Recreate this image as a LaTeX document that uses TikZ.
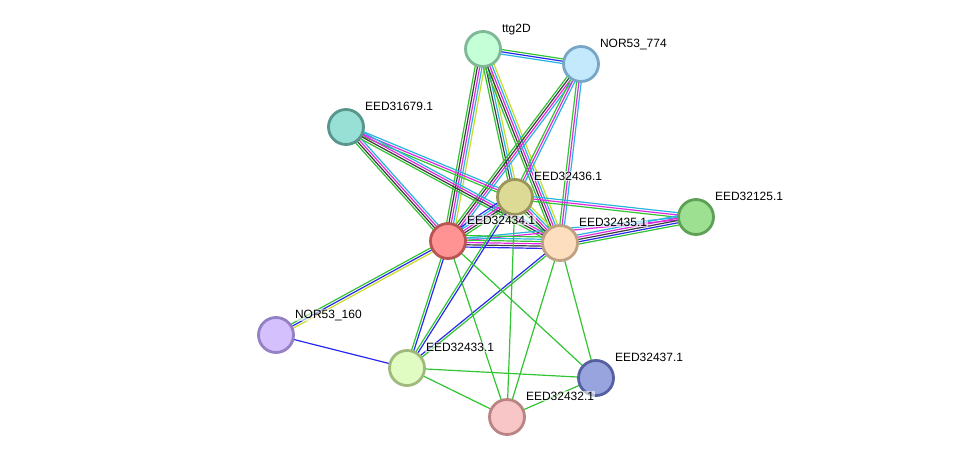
\documentclass[tikz,border=0pt]{standalone}
\usepackage{fontspec}
\setmainfont{Liberation Sans}
\usetikzlibrary{calc,backgrounds}
\definecolor{cG}{RGB}{50,196,50}
\definecolor{cB}{RGB}{40,40,240}
\definecolor{cK}{RGB}{60,60,60}
\definecolor{cM}{RGB}{225,40,225}
\definecolor{cC}{RGB}{40,180,225}
\definecolor{cY}{RGB}{200,220,40}
\tikzset{
  edge/.style={line width=1.2pt},
  prot/.style={circle, minimum size=35pt, line width=2.8pt, inner sep=0pt},
  lab/.style={anchor=base west, font=\fontsize{12}{12}\selectfont, inner sep=0.8pt,
    fill=white, fill opacity=0.6, text opacity=1}
}
\newcommand{\medge}[3]{%
  \gdef\nn{0}%
  \foreach \c in {#3}{\pgfmathtruncatemacro\tmp{\nn+1}\global\let\nn\tmp}%
  \foreach \c [count=\i] in {#3}{%
    \pgfmathsetmacro\off{(\i-(\nn+1)/2)*2.3}%
    \draw[\c, edge] ($(#1)!\off pt!90:(#2)$) -- ($(#2)!\off pt!-90:(#1)$);
  }%
}
\begin{document}
\begin{tikzpicture}[x=1pt,y=-1pt]
\useasboundingbox (0,0) rectangle (976,463);
% nodes
\node[prot, fill={rgb,255:red,196;green,255;blue,216}, draw={rgb,255:red,126;green,184;blue,150}] (ttg) at (483,49) {};
\node[prot, fill={rgb,255:red,196;green,232;blue,252}, draw={rgb,255:red,120;green,166;blue,198}] (n774) at (581,64) {};
\node[prot, fill={rgb,255:red,152;green,224;blue,214}, draw={rgb,255:red,88;green,150;blue,140}] (n679) at (346,127) {};
\node[prot, fill={rgb,255:red,221;green,218;blue,150}, draw={rgb,255:red,154;green,150;blue,90}] (n436) at (515,197) {};
\node[prot, fill={rgb,255:red,158;green,224;blue,146}, draw={rgb,255:red,94;green,160;blue,86}] (n125) at (696,217) {};
\node[prot, fill={rgb,255:red,255;green,146;blue,146}, draw={rgb,255:red,184;green,84;blue,84}] (n434) at (448,241) {};
\node[prot, fill={rgb,255:red,253;green,222;blue,190}, draw={rgb,255:red,190;green,160;blue,130}] (n435) at (560,243) {};
\node[prot, fill={rgb,255:red,212;green,192;blue,252}, draw={rgb,255:red,148;green,128;blue,196}] (n160) at (276,335) {};
\node[prot, fill={rgb,255:red,224;green,252;blue,194}, draw={rgb,255:red,160;green,186;blue,124}] (n433) at (407,368) {};
\node[prot, fill={rgb,255:red,152;green,164;blue,222}, draw={rgb,255:red,84;green,96;blue,160}] (n437) at (596,378) {};
\node[prot, fill={rgb,255:red,248;green,198;blue,198}, draw={rgb,255:red,186;green,132;blue,132}] (n432) at (507,417) {};
% edges
\begin{scope}[on background layer]
\fill[white] (0,0) rectangle (976,463);
\medge{ttg}{n774}{cC,cB,cG}
\medge{ttg}{n434}{cG,cK,cM,cC,cY}
\medge{ttg}{n436}{cG,cK,cC,cY}
\medge{ttg}{n435}{cG,cK,cM,cC,cY}
\medge{n774}{n434}{cG,cK,cM,cC}
\medge{n774}{n436}{cG,cM,cC}
\medge{n774}{n435}{cG,cM,cC}
\medge{n679}{n434}{cG,cK,cM,cC}
\medge{n679}{n436}{cG,cM,cC}
\medge{n679}{n435}{cG,cK,cM,cC}
\medge{n436}{n125}{cG,cM,cC}
\medge{n434}{n125}{cM,cC}
\medge{n435}{n125}{cG,cB,cK,cM,cC}
\medge{n434}{n435}{cB,cK,cM,cG,cC,cG}
\medge{n434}{n436}{cG,cK,cM,cC,cB}
\medge{n436}{n435}{cG,cK,cM,cC,cY}
\medge{n434}{n160}{cG,cB,cY}
\medge{n160}{n433}{cB}
\medge{n434}{n433}{cG,cB}
\medge{n436}{n433}{cG,cB}
\medge{n435}{n433}{cB,cG}
\medge{n434}{n432}{cG}
\medge{n434}{n437}{cG}
\medge{n436}{n432}{cG}
\medge{n435}{n432}{cG}
\medge{n435}{n437}{cG}
\medge{n433}{n437}{cG}
\medge{n433}{n432}{cG}
\medge{n432}{n437}{cG}
\end{scope}
% labels
\node[lab] (lttg) at ($(ttg)+(18,-16.7)$) {ttg2D};
\node[lab] (l774) at ($(n774)+(18,-16.7)$) {NOR53\_774};
\node[lab] (l679) at ($(n679)+(18,-16.7)$) {EED31679.1};
\node[lab] (l436) at ($(n436)+(18,-16.7)$) {EED32436.1};
\node[lab] (l125) at ($(n125)+(18,-16.7)$) {EED32125.1};
\node[lab] (l434) at ($(n434)+(18,-16.7)$) {EED32434.1};
\node[lab] (l435) at ($(n435)+(18,-16.7)$) {EED32435.1};
\node[lab] (l160) at ($(n160)+(18,-16.7)$) {NOR53\_160};
\node[lab] (l433) at ($(n433)+(18,-16.7)$) {EED32433.1};
\node[lab] (l437) at ($(n437)+(18,-16.7)$) {EED32437.1};
\node[lab] (l432) at ($(n432)+(18,-16.7)$) {EED32432.1};
\end{tikzpicture}
\end{document}
